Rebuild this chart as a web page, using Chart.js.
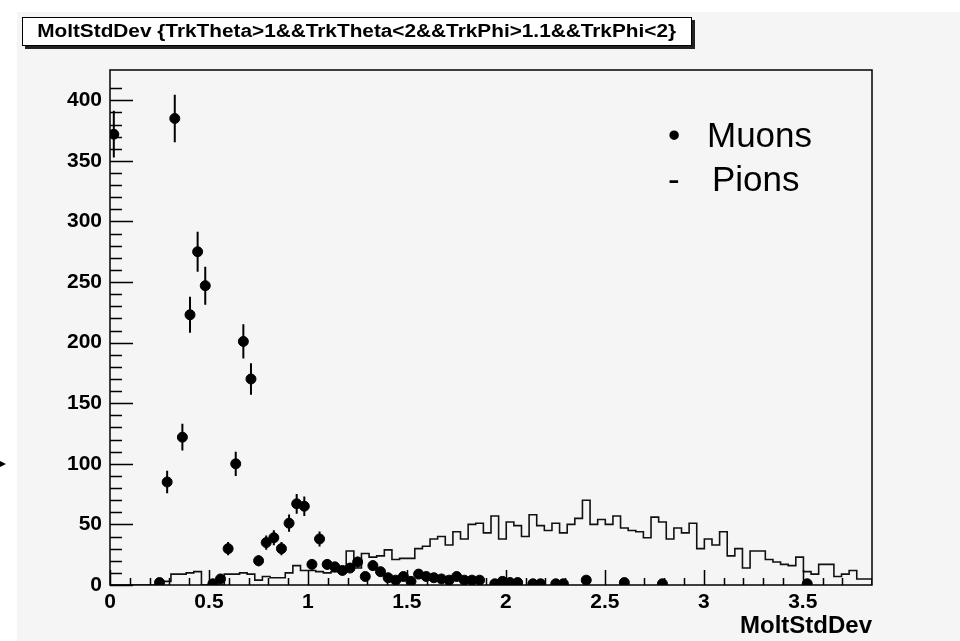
<!DOCTYPE html>
<html>
<head>
<meta charset="utf-8">
<script src="https://cdn.jsdelivr.net/npm/chart.js@4/dist/chart.umd.min.js"></script>
<style>
  body { margin: 0; background: #fff; font-family: "Liberation Sans", Arial, sans-serif; }
  #pad { position: absolute; left: 17px; top: 12px; width: 943px; height: 629px; background: #f5f5f5; }
  #cv { position: absolute; left: 0; top: 0; }
  #titlebox { position: absolute; left: 22px; top: 17px; width: 668px; height: 27px; background: #fff;
    border: 1px solid #000; box-shadow: 3px 3px 0 #222; font-weight: bold; font-size: 18px;
    line-height: 27px; text-align: center; white-space: nowrap; }
  #titlebox span { display: inline-block; transform: scaleX(1.155); }
  .leg { position: absolute; font-size: 35px; color: #000; white-space: nowrap; }
  #arrow { position: absolute; left: 0; top: 461px; width: 0; height: 0;
    border-top: 3px solid transparent; border-bottom: 3px solid transparent; border-left: 6px solid #000; }
</style>
</head>
<body>
<div id="pad"></div>
<canvas id="cv" width="960" height="641"></canvas>
<div id="titlebox"><span>MoltStdDev {TrkTheta&gt;1&amp;&amp;TrkTheta&lt;2&amp;&amp;TrkPhi&gt;1.1&amp;&amp;TrkPhi&lt;2}</span></div>
<div class="leg" style="left:668px; top:115px;">&bull;</div>
<div class="leg" style="left:707px; top:115px;">Muons</div>
<div class="leg" style="left:668px; top:159px;">-</div>
<div class="leg" style="left:712px; top:159px;">Pions</div>
<div id="arrow"></div>
<script>
// binning of the MoltStdDev histograms
var xMin = 0;
var xMax = 3.85;
var nBins = 100;
var yMax = 425;

// tick labels
var xLabelValues = [0, 0.5, 1, 1.5, 2, 2.5, 3, 3.5];
var yLabelValues = [0, 50, 100, 150, 200, 250, 300, 350, 400];

// pions: histogram contents per bin
var pionCounts = [
  9, 0, 0, 0, 0, 0, 0, 0, 3, 9,
  9, 10, 11, 0, 0, 0, 9, 9, 10, 9,
  4, 7, 6, 6, 10, 16, 12, 12, 11, 10,
  11, 12, 28, 14, 26, 23, 24, 29, 21, 22,
  22, 30, 32, 38, 40, 33, 44, 38, 50, 51,
  43, 57, 38, 52, 49, 40, 58, 49, 45, 51,
  43, 50, 55, 70, 50, 54, 50, 57, 47, 45,
  44, 39, 56, 52, 38, 47, 43, 51, 30, 38,
  33, 44, 24, 30, 14, 28, 28, 21, 19, 17,
  16, 23, 11, 9, 17, 17, 7, 9, 12, 5
];

// muons: points with sqrt(N) errors, empty bins are not drawn
var muonCounts = [
  372, 0, 0, 0, 0, 0, 2, 85, 385, 122,
  223, 275, 247, 1, 5, 30, 100, 201, 170, 20,
  35, 39, 30, 51, 67, 65, 17, 38, 17, 15,
  12, 14, 19, 7, 16, 11, 6, 4, 7, 3,
  9, 7, 6, 5, 4, 7, 4, 4, 4, 0,
  1, 3, 2, 2, 0, 1, 1, 0, 1, 1,
  0, 0, 4, 0, 0, 0, 0, 2, 0, 0,
  0, 0, 1, 0, 0, 0, 0, 0, 0, 0,
  0, 0, 0, 0, 0, 0, 0, 0, 0, 0,
  0, 1, 0, 0, 0, 0, 0, 0, 0, 0
];

var binW = (xMax - xMin) / nBins;

// outline of the pion histogram, one point per bin edge
var pionLine = [{x: xMin, y: 0}];
for (let i = 0; i < nBins; i++) {
  pionLine.push({x: xMin + i * binW, y: pionCounts[i]});
}
pionLine.push({x: xMax, y: pionCounts[nBins - 1]});
pionLine.push({x: xMax, y: 0});

var muonPts = [];
for (let i = 0; i < nBins; i++) {
  if (muonCounts[i] > 0) muonPts.push({x: xMin + (i + 0.5) * binW, y: muonCounts[i]});
}

var FONT = "'Liberation Sans', Arial, sans-serif";

function near(v, step) {
  return Math.abs(v / step - Math.round(v / step)) < 1e-6;
}

// error bars, frame and ROOT style inner ticks
var rootStyle = {
  id: 'rootStyle',
  afterDatasetsDraw(chart) {
    var ctx = chart.ctx, xs = chart.scales.x, ys = chart.scales.y, a = chart.chartArea;
    ctx.save();
    ctx.beginPath();
    ctx.rect(a.left, a.top, a.right - a.left, a.bottom - a.top);
    ctx.clip();
    ctx.strokeStyle = '#000';
    ctx.lineWidth = 2;
    muonPts.forEach(function (p) {
      var e = Math.sqrt(p.y);
      var px = xs.getPixelForValue(p.x);
      ctx.beginPath();
      ctx.moveTo(px, ys.getPixelForValue(p.y - e));
      ctx.lineTo(px, ys.getPixelForValue(p.y + e));
      ctx.moveTo(xs.getPixelForValue(p.x - binW / 2), ys.getPixelForValue(p.y));
      ctx.lineTo(xs.getPixelForValue(p.x + binW / 2), ys.getPixelForValue(p.y));
      ctx.stroke();
    });
    ctx.restore();
  },
  afterDraw(chart) {
    var ctx = chart.ctx, xs = chart.scales.x, ys = chart.scales.y, a = chart.chartArea;
    ctx.save();
    ctx.strokeStyle = '#000';
    ctx.lineWidth = 1.5;
    ctx.beginPath();
    ys.ticks.forEach(function (t) {
      if (!near(t.value, 10)) return;
      var len = yLabelValues.indexOf(t.value) >= 0 ? 23 : 12;
      var py = Math.round(ys.getPixelForValue(t.value)) + 0.5;
      ctx.moveTo(a.left, py);
      ctx.lineTo(a.left + len, py);
    });
    xs.ticks.forEach(function (t) {
      if (!near(t.value, 0.1)) return;
      var len = near(t.value, 0.5) ? 15 : 7;
      var px = Math.round(xs.getPixelForValue(t.value)) + 0.5;
      ctx.moveTo(px, a.bottom);
      ctx.lineTo(px, a.bottom - len);
    });
    ctx.stroke();
    ctx.strokeRect(a.left, a.top, a.right - a.left, a.bottom - a.top);
    ctx.restore();
  }
};

var tickFont = {family: FONT, size: 21, weight: 'bold'};

new Chart(document.getElementById('cv'), {
  type: 'scatter',
  data: {
    datasets: [
      {
        label: 'Muons',
        data: muonPts,
        pointRadius: 5,
        pointBorderWidth: 1,
        backgroundColor: '#000',
        borderColor: '#000'
      },
      {
        type: 'line',
        label: 'Pions',
        data: pionLine,
        stepped: 'after',
        borderColor: '#111',
        borderWidth: 1.6,
        pointRadius: 0,
        fill: false
      }
    ]
  },
  options: {
    responsive: false,
    animation: false,
    devicePixelRatio: 1,
    layout: {padding: {left: 0, top: 70, right: 88, bottom: 0}},
    plugins: {legend: {display: false}, tooltip: {enabled: false}},
    scales: {
      x: {
        type: 'linear',
        min: xMin,
        max: xMax,
        afterFit: function (s) { s.height = 56; },
        grid: {display: false, drawTicks: false},
        border: {display: false},
        ticks: {
          stepSize: 0.1,
          maxTicksLimit: 1000,
          autoSkip: false,
          maxRotation: 0,
          padding: 5,
          color: '#000',
          font: tickFont,
          callback: function (v) { return xLabelValues.indexOf(v) >= 0 ? String(v) : ''; }
        },
        title: {
          display: true,
          text: 'MoltStdDev',
          align: 'end',
          color: '#000',
          padding: 0,
          font: {family: FONT, size: 24, weight: 'bold'}
        }
      },
      y: {
        min: 0,
        max: yMax,
        afterFit: function (s) { s.width = 110; },
        grid: {display: false, drawTicks: false},
        border: {display: false},
        ticks: {
          stepSize: 10,
          maxTicksLimit: 1000,
          autoSkip: false,
          padding: 8,
          color: '#000',
          font: tickFont,
          callback: function (v) { return yLabelValues.indexOf(v) >= 0 ? String(v) : ''; }
        }
      }
    }
  },
  plugins: [rootStyle]
});
</script>
</body>
</html>
